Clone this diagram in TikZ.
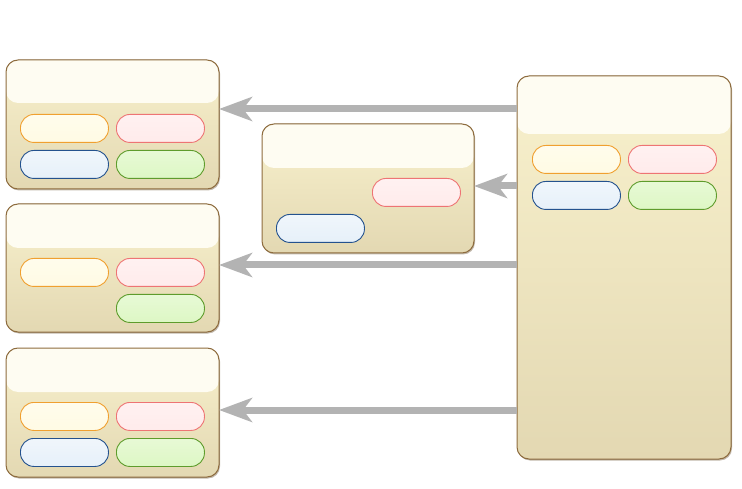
\documentclass[tikz,border=0pt]{standalone}
\usetikzlibrary{arrows.meta,shadows,calc}
\definecolor{boxborder}{HTML}{8E6C3E}
\definecolor{headfill}{HTML}{FEFCF2}
\definecolor{bodytop}{HTML}{F8F1CD}
\definecolor{bodybot}{HTML}{E3D8B2}
\definecolor{arrowgray}{HTML}{B3B3B3}
\definecolor{ylwline}{HTML}{F0A030}
\definecolor{ylwfill}{HTML}{FFFBE4}
\definecolor{redline}{HTML}{EE7474}
\definecolor{redfill}{HTML}{FFEBEB}
\definecolor{blueline}{HTML}{24528E}
\definecolor{bluefill}{HTML}{E6F0F9}
\definecolor{grnline}{HTML}{5E9C2C}
\definecolor{grnfill}{HTML}{DDF7C4}
\tikzset{
  panel/.style 2 args={rectangle, anchor=north west, inner sep=0pt, outer sep=0pt,
    minimum width=#1, minimum height=#2, rounded corners=12pt,
    draw=boxborder, line width=1pt,
    drop shadow={shadow xshift=1pt, shadow yshift=-1.5pt, opacity=0.4, fill=boxborder!70!black}},
  header/.style={path picture={
    \fill[top color=bodytop, bottom color=bodybot]
      (path picture bounding box.south west) rectangle (path picture bounding box.north east);
    \fill[headfill] (path picture bounding box.north west) rectangle
      ([yshift=-#1]path picture bounding box.north east);
  }},
  pill/.style={rectangle, anchor=north west, inner sep=0pt, minimum width=88pt,
    minimum height=28pt, rounded corners=13.5pt, line width=0.9pt},
  pillY/.style={pill, draw=ylwline, top color=ylwfill!70!white, bottom color=ylwfill},
  pillR/.style={pill, draw=redline, top color=redfill!70!white, bottom color=redfill},
  pillB/.style={pill, draw=blueline, top color=bluefill!60!white, bottom color=bluefill},
  pillG/.style={pill, draw=grnline, top color=grnfill!70!white, bottom color=grnfill},
  flow/.style={draw=arrowgray, line width=7pt,
    -{Stealth[length=33pt, width=24pt, inset=9pt, fill=arrowgray]}},
}
\begin{document}
\begin{tikzpicture}[x=1pt, y=-1pt]
\useasboundingbox (0,0) rectangle (742,489);

% panels
\node[panel={213pt}{129pt}, header=43pt] (A1) at (6,60) {};
\node[panel={213pt}{128pt}, header=44pt] (A2) at (6,204) {};
\node[panel={213pt}{129pt}, header=44pt] (A3) at (6,348) {};
\node[panel={212pt}{129pt}, header=44pt] (B) at (262,124) {};
\node[panel={214pt}{383pt}, header=58pt] (C) at (517,76) {};

% pills A1
\node[pillY] (a1y) at (20,114) {};
\node[pillR] (a1r) at (116,114) {};
\node[pillB] (a1b) at (20,150) {};
\node[pillG] (a1g) at (116,150) {};
% pills A2
\node[pillY] (a2y) at (20,258) {};
\node[pillR] (a2r) at (116,258) {};
\node[pillG] (a2g) at (116,294) {};
% pills A3
\node[pillY] (a3y) at (20,402) {};
\node[pillR] (a3r) at (116,402) {};
\node[pillB] (a3b) at (20,438) {};
\node[pillG] (a3g) at (116,438) {};
% pills B
\node[pillR] (br) at (372,178) {};
\node[pillB] (bb) at (276,214) {};
% pills C
\node[pillY] (cy) at (532,145) {};
\node[pillR] (cr) at (628,145) {};
\node[pillB] (cb) at (532,181) {};
\node[pillG] (cg) at (628,181) {};

% connectors
\coordinate (c1) at (517,109);
\coordinate (c2) at (517,186);
\coordinate (c3) at (517,265);
\coordinate (c4) at (517,410);
\draw[flow] (c1) -- (c1 -| A1.east);
\draw[flow] (c2) -- (c2 -| B.east);
\draw[flow] (c3) -- (c3 -| A2.east);
\draw[flow] (c4) -- (c4 -| A3.east);
\end{tikzpicture}
\end{document}
